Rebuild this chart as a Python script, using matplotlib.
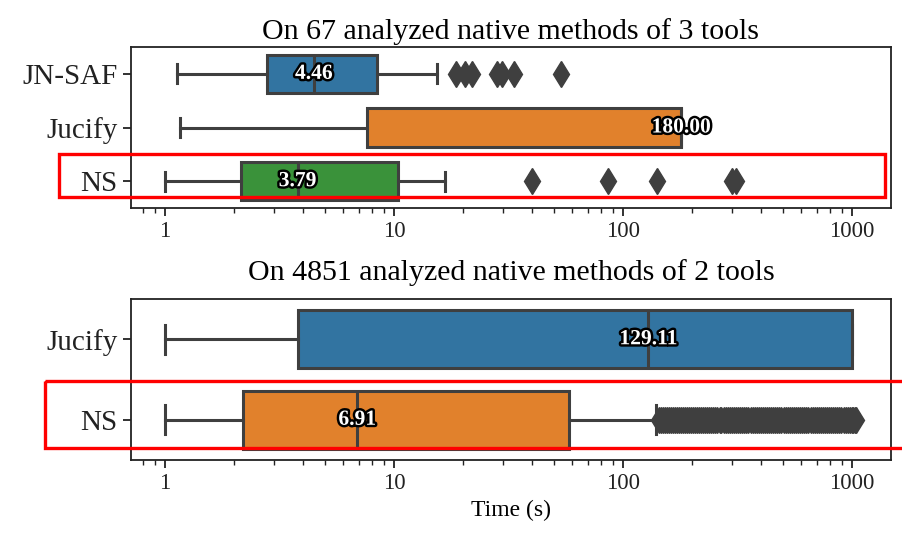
import matplotlib
matplotlib.use("Agg")
import matplotlib.pyplot as plt
import matplotlib.patheffects as pe
import matplotlib.transforms as mtransforms
from matplotlib.patches import Rectangle

plt.rcParams['font.family'] = 'serif'
plt.rcParams['font.serif'] = ['Liberation Serif', 'DejaVu Serif']

# box statistics (seconds)
tools_67 = ['JN-SAF', 'Jucify', 'NS']
whislo_67 = [1.13, 1.16, 1.0]
q1_67 = [2.79, 7.62, 2.15]
med_67 = [4.46, 180.0, 3.79]
q3_67 = [8.43, 180.0, 10.4]
whishi_67 = [15.4, 180.0, 16.7]
fliers_67 = [[18.7, 20.4, 21.9, 28.2, 29.6, 33.4, 53.6],
             [],
             [40.0, 86.0, 141.0, 300.0, 310.0]]

tools_4851 = ['Jucify', 'NS']
whislo_4851 = [1.0, 1.0]
q1_4851 = [3.81, 2.19]
med_4851 = [129.11, 6.91]
q3_4851 = [1000.0, 58.1]
whishi_4851 = [1000.0, 140.0]
fliers_ns_4851 = [144, 147, 150, 153, 156, 159, 162, 165, 168, 172, 175, 179,
                  182, 186, 190, 194, 198, 202, 206, 210, 215, 219, 224, 228,
                  233, 238, 243, 248, 253, 258, 264, 269, 275, 281, 287, 293,
                  299, 305, 312, 318, 325, 332, 339, 346, 353, 361, 368, 376,
                  384, 392, 400, 409, 417, 426, 435, 444, 453, 463, 472, 482,
                  492, 503, 513, 524, 535, 546, 558, 569, 581, 594, 606, 619,
                  632, 645, 659, 673, 687, 701, 716, 731, 746, 762, 778, 794,
                  811, 828, 845, 863, 881, 899, 918, 937, 957, 977, 998, 1015,
                  1030, 1045]
fliers_4851 = [[], fliers_ns_4851]

colors_67 = ['#3274a1', '#e1812c', '#3a923a']
colors_4851 = ['#3274a1', '#e1812c']
titles = ['On 67 analyzed native methods of 3 tools',
          'On 4851 analyzed native methods of 2 tools']

gray = '#3f3f3f'

fig = plt.figure(figsize=(9.03, 5.34), dpi=100)
ax1 = fig.add_axes([131/903, 1 - 208/534, 760/903, 161/534])
ax2 = fig.add_axes([131/903, 1 - 460/534, 760/903, 161/534])


def draw(ax, names, lo, q1, med, q3, hi, fl, cols):
    stats = []
    for i in range(len(names)):
        stats.append(dict(whislo=lo[i], q1=q1[i], med=med[i], q3=q3[i],
                          whishi=hi[i], fliers=fl[i], label=names[i]))
    pos = list(range(len(names)))
    bp = ax.bxp(stats, positions=pos, vert=False, widths=0.72,
                patch_artist=True, manage_ticks=False,
                boxprops=dict(edgecolor=gray, linewidth=2.2),
                whiskerprops=dict(color=gray, linewidth=2.2),
                capprops=dict(color=gray, linewidth=2.2),
                medianprops=dict(color=gray, linewidth=2.2),
                flierprops=dict(marker='d', markersize=13, markerfacecolor=gray,
                                markeredgecolor=gray, linestyle='none'))
    for b, c in zip(bp['boxes'], cols):
        b.set_facecolor(c)
    for i, m in enumerate(med):
        ax.text(m, pos[i], '%.2f' % m, ha='center', va='center', color='white',
                fontsize=15.5, fontweight='bold',
                path_effects=[pe.withStroke(linewidth=3.5, foreground='black')])
    ax.set_xscale('log')
    ax.set_xlim(0.71, 1480)
    ax.set_ylim(len(names) - 0.5, -0.5)
    ax.set_yticks(pos)
    ax.set_yticklabels(names, fontsize=21)
    ax.xaxis.set_major_formatter(matplotlib.ticker.FuncFormatter(lambda v, p: '%g' % v))
    ax.tick_params(axis='x', labelsize=16.5, length=6, width=1.3, colors='#222222')
    ax.tick_params(axis='x', which='minor', length=3.5, width=1.0, colors='#222222')
    ax.tick_params(axis='y', length=6, width=1.3, colors='#222222')
    for s in ax.spines.values():
        s.set_linewidth(1.3)
        s.set_color('#222222')


draw(ax1, tools_67, whislo_67, q1_67, med_67, q3_67, whishi_67, fliers_67, colors_67)
draw(ax2, tools_4851, whislo_4851, q1_4851, med_4851, q3_4851, whishi_4851,
     fliers_4851, colors_4851)

ax1.set_title(titles[0], fontsize=21.5, pad=6)
ax2.set_title(titles[1], fontsize=21.5, pad=14)
ax2.set_xlabel('Time (s)', fontsize=17)

# red highlight boxes around NS rows
tr1 = mtransforms.blended_transform_factory(ax1.transAxes, ax1.transData)
ax1.add_patch(Rectangle((-0.095, 1.494), 1.087, 0.80, transform=tr1, fill=False,
                        edgecolor='red', linewidth=2.4, clip_on=False, zorder=10))
tr2 = mtransforms.blended_transform_factory(ax2.transAxes, ax2.transData)
ax2.add_patch(Rectangle((-0.113, 0.519), 1.2, 0.832, transform=tr2, fill=False,
                        edgecolor='red', linewidth=2.4, clip_on=False, zorder=10))

fig.savefig('out.png', dpi=100)
